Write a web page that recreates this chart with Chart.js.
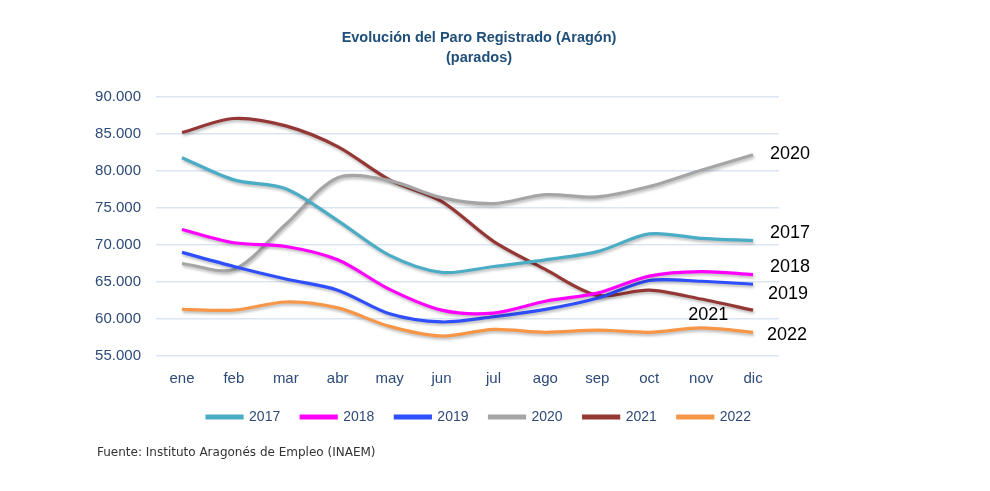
<!DOCTYPE html>
<html>
<head>
<meta charset="utf-8">
<script src="https://cdn.jsdelivr.net/npm/chart.js@4.4.1/dist/chart.umd.min.js"></script>
<style>
  html, body { margin: 0; padding: 0; background: #ffffff; }
  #wrap { position: relative; width: 990px; height: 491px; }
  #c { position: absolute; left: 0; top: 0; }
  #src { position: absolute; left: 97px; top: 445px; font-family: "DejaVu Sans", Verdana, sans-serif; font-size: 12px; color: #333333; white-space: nowrap; }
</style>
</head>
<body>
<div id="wrap">
  <canvas id="c" width="990" height="491"></canvas>
  <div id="src">Fuente: Instituto Aragonés de Empleo (INAEM)</div>
</div>
<script>
// ---- Data ----
const months = ["ene","feb","mar","abr","may","jun","jul","ago","sep","oct","nov","dic"];
const years = ["2017","2018","2019","2020","2021","2022"];
const s2017 = [81800, 78800, 77600, 73300, 68600, 66300, 67100, 68000, 69100, 71500, 70900, 70600];
const s2018 = [72100, 70300, 69800, 68000, 64000, 61200, 60800, 62400, 63500, 65800, 66400, 66000];
const s2019 = [69000, 67100, 65400, 63900, 60700, 59600, 60300, 61300, 62800, 65200, 65100, 64700];
const s2020 = [67500, 66700, 72800, 79100, 78700, 76400, 75600, 76800, 76500, 77900, 80100, 82200];
const s2021 = [85200, 87100, 86100, 83300, 78800, 75900, 70500, 66700, 63200, 63900, 62700, 61200];
const s2022 = [61300, 61200, 62300, 61500, 59000, 57700, 58600, 58200, 58500, 58200, 58800, 58200];
const yTickMin = 55000, yTickMax = 90000, yTickStep = 5000;

// ---- Styles ----
const colors = ["#4BACC6", "#FF00FF", "#2F4FFF", "#A5A5A5", "#953735", "#F79646"];
const seriesList = [s2017, s2018, s2019, s2020, s2021, s2022];
// end-label placement: which point index, pixel offsets
const endLabels = [
  {idx: 11, dx: 17, dy: -8},   // 2017
  {idx: 11, dx: 17, dy: -8},   // 2018
  {idx: 11, dx: 15, dy: 10},   // 2019
  {idx: 11, dx: 17, dy: -1},   // 2020
  {idx: 10, dx: -13, dy: 16},  // 2021
  {idx: 11, dx: 14, dy: 3}     // 2022
];
const axisColor = "#2E4A78";

function fmt(v) {
  const s = String(Math.round(v));
  return s.replace(/\B(?=(\d{3})+(?!\d))/g, ".");
}

const shadowPlugin = {
  id: 'shadow',
  beforeDatasetDraw(chart) {
    const ctx = chart.ctx;
    ctx.save();
    ctx.shadowColor = 'rgba(0,0,0,0.28)';
    ctx.shadowBlur = 3;
    ctx.shadowOffsetX = 1;
    ctx.shadowOffsetY = 2;
  },
  afterDatasetDraw(chart) {
    chart.ctx.restore();
  }
};

const endLabelPlugin = {
  id: 'endLabels',
  afterDatasetsDraw(chart) {
    const ctx = chart.ctx;
    const xs = chart.scales.x, ys = chart.scales.y;
    ctx.save();
    ctx.font = '18px "Liberation Sans", Arial, sans-serif';
    ctx.fillStyle = '#000000';
    ctx.textAlign = 'left';
    ctx.textBaseline = 'middle';
    chart.data.datasets.forEach((ds, i) => {
      const cfg = endLabels[i];
      const x = xs.getPixelForValue(cfg.idx) + cfg.dx;
      const y = ys.getPixelForValue(ds.data[cfg.idx]) + cfg.dy;
      ctx.fillText(ds.label, x, y);
    });
    ctx.restore();
  }
};

const datasets = years.map((y, i) => ({
  label: y,
  data: seriesList[i],
  borderColor: colors[i],
  backgroundColor: colors[i],
  borderWidth: 3.2,
  pointRadius: 0,
  tension: 0.3,
  fill: false,
  yAxisID: 'y'
}));

new Chart(document.getElementById('c'), {
  type: 'line',
  data: { labels: months, datasets },
  options: {
    responsive: false,
    animation: false,
    layout: { padding: { left: 0, right: 32, top: 0, bottom: 57 } },
    plugins: {
      title: {
        display: true,
        text: ["Evolución del Paro Registrado (Aragón)", "(parados)"],
        color: "#1F4E79",
        font: { family: '"Liberation Sans", Arial, sans-serif', size: 14.5, weight: 'bold', lineHeight: 1.38 },
        padding: { top: 28, bottom: 29 }
      },
      legend: {
        position: 'bottom',
        labels: {
          color: axisColor,
          font: { family: '"Liberation Sans", Arial, sans-serif', size: 14 },
          boxWidth: 35,
          boxHeight: 2,
          padding: 21
        }
      },
      tooltip: { enabled: false }
    },
    scales: {
      x: {
        offset: true,
        grid: { display: false, drawTicks: false },
        border: { display: false },
        ticks: { color: axisColor, font: { family: '"Liberation Sans", Arial, sans-serif', size: 15 }, padding: 14 },
        afterFit(scale) { scale.height -= 13; }
      },
      y: {
        position: 'left',
        min: yTickMin, max: yTickMax,
        grid: { color: "#DCE5F2", lineWidth: 1.5, drawTicks: false },
        border: { display: false },
        ticks: {
          stepSize: yTickStep,
          color: axisColor,
          font: { family: '"Liberation Sans", Arial, sans-serif', size: 15 },
          padding: 15,
          callback: (v) => fmt(v)
        },
        afterFit(scale) { scale.width = 156; }
      },
      y2: {
        position: 'right',
        display: true,
        grid: { display: false, drawTicks: false },
        border: { display: false },
        ticks: { display: false },
        afterFit(scale) { scale.width = 179; }
      }
    }
  },
  plugins: [shadowPlugin, endLabelPlugin]
});
</script>
</body>
</html>
